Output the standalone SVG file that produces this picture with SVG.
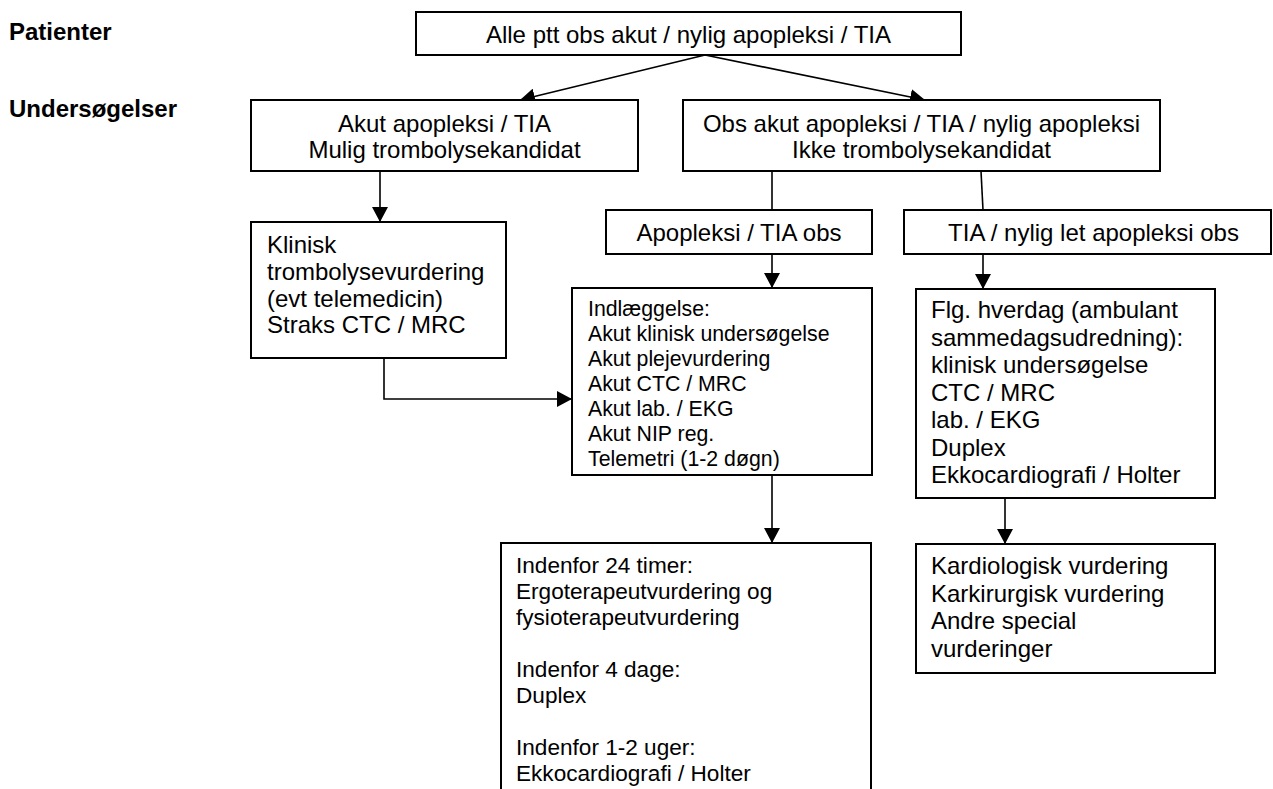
<svg xmlns="http://www.w3.org/2000/svg" width="1273" height="789" viewBox="0 0 1273 789">
  <defs>
    <marker id="arrow" markerUnits="userSpaceOnUse" markerWidth="16" markerHeight="16" refX="15" refY="8" orient="auto">
      <path d="M0,0 L15,8 L0,16 Z" fill="#000"/>
    </marker>
    <style>
      .box { fill: #fff; stroke: #000; stroke-width: 2; }
      .t { font-family: "Liberation Sans", Arial, sans-serif; font-size: 24px; fill: #000; }
      .s { font-family: "Liberation Sans", Arial, sans-serif; font-size: 21.3px; fill: #000; }
      .m { font-family: "Liberation Sans", Arial, sans-serif; font-size: 22.6px; fill: #000; }
      .c { text-anchor: middle; }
      .lbl { font-family: "Liberation Sans", Arial, sans-serif; font-size: 24px; font-weight: bold; fill: #000; }
      .ln { fill: none; stroke: #000; stroke-width: 1.6; }
      .ar { marker-end: url(#arrow); }
    </style>
  </defs>
  <rect width="1273" height="789" fill="#fff"/>

  <!-- row labels -->
  <text class="lbl" x="9" y="40">Patienter</text>
  <text class="lbl" x="9" y="117">Undersøgelser</text>

  <!-- connectors -->
  <g id="connectors">
    <line class="ln ar" x1="705" y1="55" x2="520" y2="100"/>
    <line class="ln ar" x1="705" y1="55" x2="925" y2="100"/>
    <line class="ln ar" x1="380" y1="171" x2="380" y2="222"/>
    <polyline class="ln ar" points="384,358 384,399 572,399"/>
    <line class="ln" x1="772" y1="171" x2="772" y2="210"/>
    <line class="ln" x1="981" y1="171" x2="983" y2="210"/>
    <line class="ln ar" x1="772" y1="254" x2="772" y2="288"/>
    <line class="ln ar" x1="983" y1="254" x2="983" y2="289"/>
    <line class="ln ar" x1="772" y1="475" x2="772" y2="543"/>
    <line class="ln ar" x1="1005" y1="498" x2="1005" y2="544"/>
  </g>

  <g id="node-alle">
    <rect class="box" x="416" y="12" width="545" height="43"/>
    <text class="t c" x="688.5" y="43">Alle ptt obs akut / nylig apopleksi / TIA</text>
  </g>

  <g id="node-akut">
    <rect class="box" x="251" y="100" width="387" height="71"/>
    <text class="t c" x="444.5" y="132">Akut apopleksi / TIA</text>
    <text class="t c" x="444.5" y="158">Mulig trombolysekandidat</text>
  </g>

  <g id="node-obs">
    <rect class="box" x="683" y="100" width="477" height="71"/>
    <text class="t c" x="921.5" y="132">Obs akut apopleksi / TIA / nylig apopleksi</text>
    <text class="t c" x="921.5" y="158">Ikke trombolysekandidat</text>
  </g>

  <g id="node-klinisk">
    <rect class="box" x="251" y="222" width="255" height="136"/>
    <text class="t" x="267" y="253">Klinisk</text>
    <text class="t" x="267" y="280">trombolysevurdering</text>
    <text class="t" x="267" y="307">(evt telemedicin)</text>
    <text class="t" x="267" y="333">Straks CTC / MRC</text>
  </g>

  <g id="node-apopleksi-obs">
    <rect class="box" x="606" y="210" width="266" height="44"/>
    <text class="t c" x="739" y="241">Apopleksi / TIA obs</text>
  </g>

  <g id="node-tia-obs">
    <rect class="box" x="904" y="210" width="367" height="44"/>
    <text class="t c" x="1093.5" y="241">TIA / nylig let apopleksi obs</text>
  </g>

  <g id="node-indlaeggelse">
    <rect class="box" x="572" y="288" width="300" height="187"/>
    <text class="s" x="588" y="316">Indlæggelse:</text>
    <text class="s" x="588" y="341">Akut klinisk undersøgelse</text>
    <text class="s" x="588" y="366">Akut plejevurdering</text>
    <text class="s" x="588" y="391">Akut CTC / MRC</text>
    <text class="s" x="588" y="416">Akut lab. / EKG</text>
    <text class="s" x="588" y="441">Akut NIP reg.</text>
    <text class="s" x="588" y="466">Telemetri (1-2 døgn)</text>
  </g>

  <g id="node-flg-hverdag">
    <rect class="box" x="916" y="289" width="299" height="209"/>
    <text class="t" x="931" y="318">Flg. hverdag (ambulant</text>
    <text class="t" x="931" y="346">sammedagsudredning):</text>
    <text class="t" x="931" y="373">klinisk undersøgelse</text>
    <text class="t" x="931" y="401">CTC / MRC</text>
    <text class="t" x="931" y="428">lab. / EKG</text>
    <text class="t" x="931" y="456">Duplex</text>
    <text class="t" x="931" y="483">Ekkocardiografi / Holter</text>
  </g>

  <g id="node-indenfor">
    <rect class="box" x="501" y="543" width="370" height="260"/>
    <text class="m" x="516" y="573">Indenfor 24 timer:</text>
    <text class="m" x="516" y="599">Ergoterapeutvurdering og</text>
    <text class="m" x="516" y="625">fysioterapeutvurdering</text>
    <text class="m" x="516" y="677">Indenfor 4 dage:</text>
    <text class="m" x="516" y="703">Duplex</text>
    <text class="m" x="516" y="755">Indenfor 1-2 uger:</text>
    <text class="m" x="516" y="781">Ekkocardiografi / Holter</text>
  </g>

  <g id="node-vurderinger">
    <rect class="box" x="916" y="544" width="299" height="129"/>
    <text class="t" x="931" y="574">Kardiologisk vurdering</text>
    <text class="t" x="931" y="602">Karkirurgisk vurdering</text>
    <text class="t" x="931" y="629">Andre special</text>
    <text class="t" x="931" y="657">vurderinger</text>
  </g>
</svg>
